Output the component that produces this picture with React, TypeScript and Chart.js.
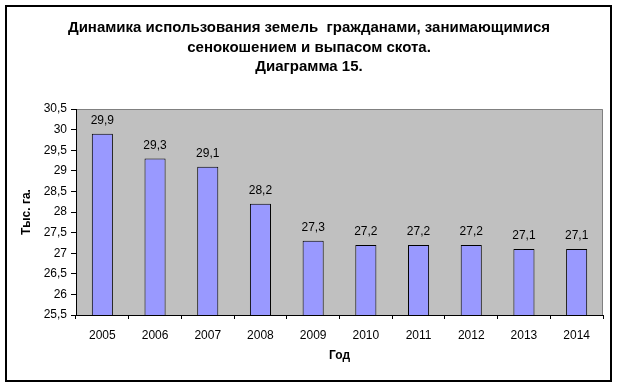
import { useEffect, useRef } from 'react';
import { Chart, registerables } from 'chart.js';

Chart.register(...registerables);

const years = ['2005', '2006', '2007', '2008', '2009', '2010', '2011', '2012', '2013', '2014'];
const values = [29.9, 29.3, 29.1, 28.2, 27.3, 27.2, 27.2, 27.2, 27.1, 27.1];
const titleLines = [
  'Динамика использования земель  гражданами, занимающимися',
  'сенокошением и выпасом скота.',
  'Диаграмма 15.',
];
const yTitle = 'Тыс. га.';
const xTitle = 'Год';
const yMin = 25.5;
const yMax = 30.5;
const yStep = 0.5;

const fmt = (v: number) => String(Math.round(v * 10) / 10).replace('.', ',');

export default function App() {
  const ref = useRef<HTMLCanvasElement>(null);
  useEffect(() => {
    document.body.style.margin = '0';
    const FONT = '"Liberation Sans", Arial, sans-serif';
    const decor = {
      id: 'decor',
      beforeDraw(chart: any) {
        const { ctx, chartArea: a } = chart;
        ctx.save();
        ctx.fillStyle = '#ffffff';
        ctx.fillRect(0, 0, chart.width, chart.height);
        ctx.fillStyle = '#c0c0c0';
        ctx.fillRect(a.left, a.top, a.right - a.left, a.bottom - a.top);
        ctx.strokeStyle = '#808080';
        ctx.lineWidth = 1;
        ctx.beginPath();
        ctx.moveTo(a.left, a.top + 0.5);
        ctx.lineTo(a.right - 0.5, a.top + 0.5);
        ctx.lineTo(a.right - 0.5, a.bottom);
        ctx.stroke();
        ctx.restore();
      },
      afterDraw(chart: any) {
        const { ctx } = chart;
        ctx.save();
        ctx.strokeStyle = '#000';
        ctx.lineWidth = 2;
        ctx.strokeRect(6, 6, 605, 375);
        ctx.fillStyle = '#000';
        ctx.font = 'bold 15px ' + FONT;
        ctx.textAlign = 'center';
        ctx.textBaseline = 'middle';
        const ys = [28, 48, 67];
        titleLines.forEach((t, i) => ctx.fillText(t, 309, ys[i]));
        ctx.font = '12px ' + FONT;
        const meta = chart.getDatasetMeta(0);
        meta.data.forEach((bar: any, i: number) => {
          ctx.fillText(fmt(values[i]), bar.x, bar.y - 13);
        });
        ctx.restore();
      },
    };
    const chart = new Chart(ref.current!, {
      type: 'bar',
      data: {
        labels: years,
        datasets: [
          {
            data: values,
            backgroundColor: '#9999ff',
            borderColor: '#000000',
            borderWidth: 1,
            borderSkipped: false,
            barPercentage: 0.4,
            categoryPercentage: 1,
          },
        ],
      },
      options: {
        responsive: false,
        animation: false,
        layout: { padding: { top: 109, right: 15, left: 0, bottom: 0 } },
        plugins: { legend: { display: false }, tooltip: { enabled: false } },
        scales: {
          x: {
            afterFit: (s: any) => {
              s.height = 71;
            },
            grid: { drawOnChartArea: false, tickLength: 4, tickColor: '#000', offset: true },
            border: { color: '#000', width: 1 },
            ticks: { color: '#000', font: { family: FONT, size: 12 }, padding: 9, maxRotation: 0 },
            title: {
              display: true,
              text: xTitle,
              color: '#000',
              font: { family: FONT, size: 12, weight: 'bold' },
              padding: { top: 0, bottom: 23 },
            },
          },
          y: {
            min: yMin,
            max: yMax,
            afterFit: (s: any) => {
              s.width = 76;
            },
            grid: { drawOnChartArea: false, tickLength: 5, tickColor: '#000' },
            border: { color: '#000', width: 1 },
            ticks: {
              stepSize: yStep,
              color: '#000',
              font: { family: FONT, size: 12 },
              padding: 4,
              callback: (v: any) => fmt(Number(v)),
            },
            title: {
              display: true,
              text: yTitle,
              color: '#000',
              font: { family: FONT, size: 12, weight: 'bold' },
              padding: { top: 19, bottom: 0 },
            },
          },
        },
      },
      plugins: [decor],
    });
    return () => chart.destroy();
  }, []);
  return <canvas ref={ref} width={618} height={386} style={{ display: 'block' }} />;
}
